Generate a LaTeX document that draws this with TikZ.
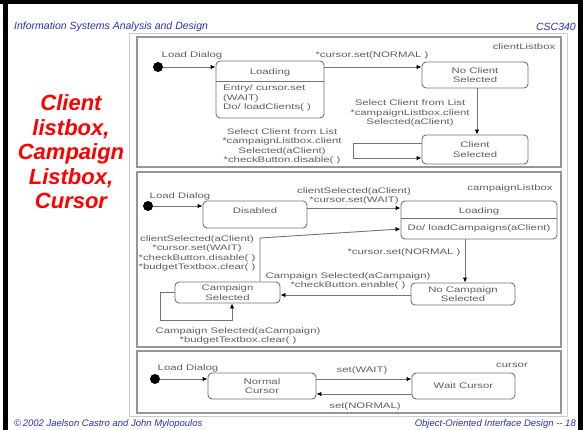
\documentclass[tikz,border=0pt]{standalone}
\usepackage{fontspec}
\setmainfont{Liberation Sans}
\newfontfamily\umlfont[FakeStretch=1.42]{Liberation Sans}
\newcommand\umlsize{\fontsize{8}{9.5}\selectfont}
\usetikzlibrary{arrows.meta}
\definecolor{slideblue}{RGB}{40,50,180}
\definecolor{umlgray}{RGB}{95,95,95}
\definecolor{linegray}{RGB}{115,115,115}
\definecolor{panelgray}{RGB}{150,150,150}
\definecolor{framegray}{RGB}{205,205,205}
\tikzset{
  umltext/.style={font=\umlfont\umlsize, text=umlgray, inner sep=0pt, align=center},
  statebox/.style={draw=linegray, line width=0.9pt, rounded corners=4pt, fill=white, inner sep=0pt,
    font=\umlfont\umlsize, text=umlgray, align=center},
  trans/.style={draw=linegray, line width=0.9pt, -{Latex[length=5pt,width=4.5pt,color=black]}},
  initdot/.style={circle, fill=black, inner sep=0pt, minimum size=10pt},
  panel/.style={draw=panelgray, line width=1.2pt},
  headtext/.style={font=\itshape\fontsize{10.5}{12}\selectfont, text=slideblue, inner sep=0pt},
  foottext/.style={font=\itshape\fontsize{9.5}{11}\selectfont, text=slideblue, inner sep=0pt},
}
\begin{document}
\begin{tikzpicture}[x=1pt,y=-1pt]
\useasboundingbox (0,0) rectangle (583,430);
\fill[white] (0,0) rectangle (583,430);
% slide border
\fill[black] (0,0) rectangle (583,4);
\fill[black] (3,0) rectangle (8,430);
\fill[black] (578,0) rectangle (583,430);

% header and footer
\node[headtext, anchor=west] (hl) at (14,27) {Information Systems Analysis and Design};
\node[headtext, anchor=east] (hr) at (576,27) {CSC340};
\node[foottext, anchor=west] (fl) at (14,424) {\char"00A9\,2002 Jaelson Castro and John Mylopoulos};
\node[foottext, anchor=east] (fr) at (576,424) {Object-Oriented Interface Design {-}{-} 18};

% slide title
\node[font=\bfseries\itshape\fontsize{22}{24.5}\selectfont, text=red, align=center, inner sep=0pt]
  (title) at (71,152) {Client\\listbox,\\Campaign\\Listbox,\\Cursor};

% diagram frame
\draw[draw=framegray, line width=1pt] (129,34) rectangle (567,416);

% ---------------- clientListbox ----------------
\draw[panel] (137,37) rectangle (561,167);
\node[umltext] (p1name) at (524,47) {clientListbox};
\node[initdot] (d1) at (158,67) {};
\node[umltext] (ld1lab) at (192,55) {Load Dialog};
\node[statebox, minimum width=108pt, minimum height=57pt] (ld1) at (270,89.5) {};
\node[umltext] (ld1head) at (270,72) {Loading};
\draw[draw=linegray, line width=0.9pt] (ld1.west |- 0,81) -- (ld1.east |- 0,81);
\node[umltext, align=left, anchor=north west] (ld1body) at (223,85) {Entry/ cursor.set\\(WAIT)\\Do/ loadClients( )};
\node[statebox, minimum width=106pt, minimum height=26pt] (ncs) at (475,75) {No Client\\Selected};
\node[statebox, minimum width=106pt, minimum height=29pt] (cls) at (475,149.5) {Client\\Selected};

\draw[trans] (d1) -- (d1 -| ld1.west);
\draw[trans] (ld1.east |- 0,67) -- (ncs.west |- 0,67);
\node[umltext] (t1) at (372,55) {*cursor.set(NORMAL )};
\draw[trans] (ncs.south -| 477,0) -- (cls.north -| 477,0);
\node[umltext] (t2) at (410,113) {Select Client from List\\*campaignListbox.client\\Selected(aClient)};
\coordinate (lp1a) at (353,143);
\coordinate (lp1b) at (353,158);
\draw[trans] (cls.west |- lp1a) -- (lp1a) -- (lp1b) -- (cls.west |- lp1b);
\node[umltext] (t3) at (282,146.5) {Select Client from List\\*campaignListbox.client\\Selected(aClient)\\*checkButton.disable( )};

% ---------------- campaignListbox ----------------
\draw[panel] (137,172) rectangle (561,347);
\node[umltext] (p2name) at (510,188) {campaignListbox};
\node[initdot] (d2) at (148,206) {};
\node[umltext] (ld2lab) at (180,196) {Load Dialog};
\node[statebox, minimum width=104pt, minimum height=27pt] (dis) at (255,214.5) {};
\node[umltext] (dishead) at (255,211) {Disabled};
\draw[trans] (d2) -- (d2 -| dis.west);
\node[statebox, minimum width=156pt, minimum height=38pt] (ld2) at (479,220) {};
\node[umltext] (ld2head) at (479,211) {Loading};
\draw[draw=linegray, line width=0.9pt] (ld2.west |- 0,218) -- (ld2.east |- 0,218);
\node[umltext] (ld2body) at (479,228.5) {Do/ loadCampaigns(aClient)};
\draw[trans] (dis.east |- 0,208) -- (ld2.west |- 0,208);
\node[umltext] (t4) at (354,196) {clientSelected(aClient)\\*cursor.set(WAIT)};

\node[statebox, minimum width=104pt, minimum height=22pt] (ncs2) at (463,294) {No Campaign\\Selected};
\node[statebox, minimum width=105pt, minimum height=21pt] (cs) at (227.5,292.5) {Campaign\\Selected};
\draw[trans] (ld2.south -| 465,0) -- (ncs2.north -| 465,0);
\node[umltext] (t5) at (404,252) {*cursor.set(NORMAL )};
\draw[trans] (ncs2.west |- 0,295) -- (cs.east |- 0,295);
\node[umltext] (t6) at (348,281) {Campaign Selected(aCampaign)\\*checkButton.enable( )};
\coordinate (up1) at (260,238);
\draw[trans] (cs.north -| up1) -- (up1) -- (ld2.west |- 0,229);
\node[umltext] (t7) at (197,253.5) {clientSelected(aClient)\\*cursor.set(WAIT)\\*checkButton.disable( )\\*budgetTextbox.clear( )};
\coordinate (lp2a) at (160,292);
\coordinate (lp2b) at (160,320);
\coordinate (lp2c) at (232,320);
\draw[trans] (cs.west |- lp2a) -- (lp2a) -- (lp2b) -- (lp2c) -- (lp2c |- cs.south);
\node[umltext] (t8) at (238,336) {Campaign Selected(aCampaign)\\*budgetTextbox.clear( )};

% ---------------- cursor ----------------
\draw[panel] (137,351) rectangle (561,413);
\node[umltext] (p3name) at (512,365) {cursor};
\node[initdot] (d3) at (155,379) {};
\node[umltext] (ld3lab) at (188,368) {Load Dialog};
\node[statebox, minimum width=108pt, minimum height=26pt] (nc) at (262,386) {Normal\\Cursor};
\node[statebox, minimum width=103pt, minimum height=26pt] (wc) at (463.5,386) {Wait Cursor};
\draw[trans] (d3) -- (d3 -| nc.west);
\draw[trans] (nc.east |- 0,379) -- (wc.west |- 0,379);
\node[umltext] (t9) at (362,370) {set(WAIT)};
\draw[trans] (wc.west |- 0,394) -- (nc.east |- 0,394);
\node[umltext] (t10) at (365,406) {set(NORMAL)};
\end{tikzpicture}
\end{document}
